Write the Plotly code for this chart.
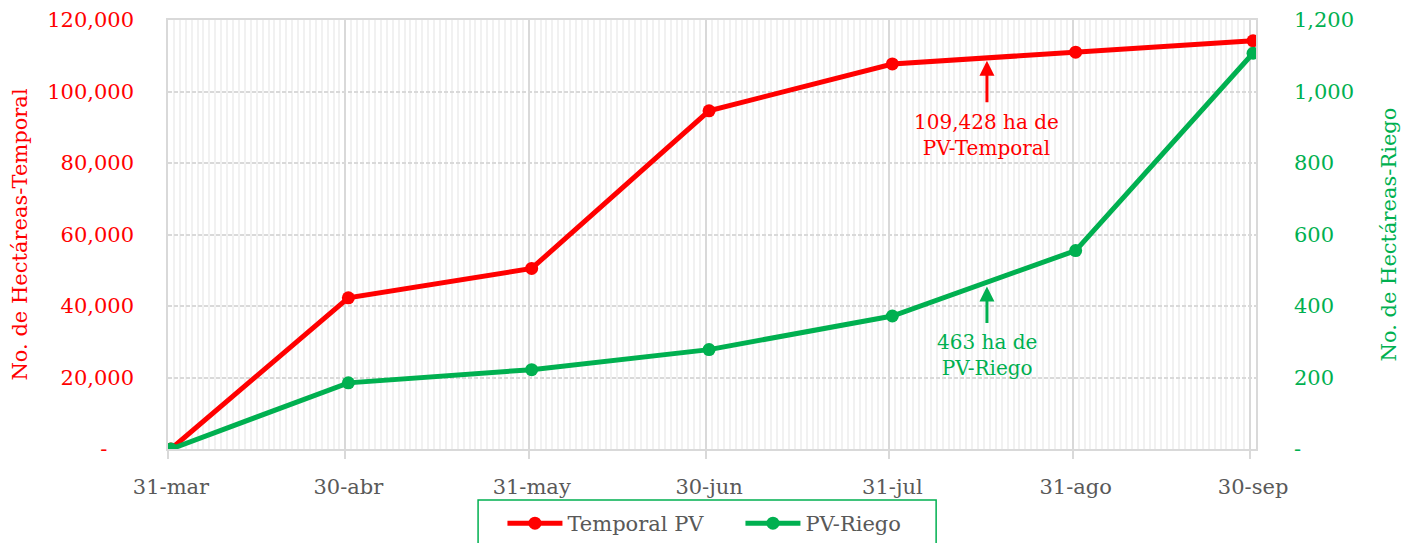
import plotly.graph_objects as go

dates = ["2023-03-31", "2023-04-30", "2023-05-31", "2023-06-30", "2023-07-31", "2023-08-31", "2023-09-30"]
date_labels = ["31-mar", "30-abr", "31-may", "30-jun", "31-jul", "31-ago", "30-sep"]
temporal = [0, 42300, 50500, 94600, 107700, 111000, 114200]
riego = [0, 185, 222, 278, 372, 555, 1107]

ann_date = "2023-08-16"
ann_temporal = 109428
ann_riego = 463

left_ticks = [0, 20000, 40000, 60000, 80000, 100000, 120000]
left_text = ["-\u00a0\u00a0\u00a0\u00a0", "20,000", "40,000", "60,000", "80,000", "100,000", "120,000"]
right_ticks = [0, 200, 400, 600, 800, 1000, 1200]
right_text = ["-", "200", "400", "600", "800", "1,000", "1,200"]

RED = "#FF0000"
GREEN = "#00B050"
GRAY = "#595959"
FONT = "DejaVu Serif"
FS = 21

xs = [d + " 12:00" for d in dates]

fig = go.Figure()
fig.add_trace(go.Scatter(x=xs, y=temporal, name="Temporal PV", mode="lines+markers",
                         line=dict(color=RED, width=5), marker=dict(size=13, color=RED)))
fig.add_trace(go.Scatter(x=xs, y=riego, name="PV-Riego", mode="lines+markers", yaxis="y2",
                         line=dict(color=GREEN, width=5), marker=dict(size=13, color=GREEN)))

fig.add_annotation(x=ann_date + " 12:00", y=ann_temporal, xref="x", yref="y",
                   text=f"{ann_temporal:,} ha de<br>PV-Temporal", showarrow=True,
                   ax=0, ay=77, arrowhead=2, arrowwidth=3, arrowsize=1, arrowcolor=RED,
                   standoff=3, startstandoff=6, font=dict(family=FONT, size=20, color=RED))
fig.add_annotation(x=ann_date + " 12:00", y=ann_riego, xref="x", yref="y2",
                   text=f"{ann_riego:,} ha de<br>PV-Riego", showarrow=True,
                   ax=0, ay=72, arrowhead=2, arrowwidth=3, arrowsize=1, arrowcolor=GREEN,
                   standoff=3, startstandoff=6, font=dict(family=FONT, size=20, color=GREEN))

# legend frame
fig.add_shape(type="rect", xref="paper", yref="paper", x0=0.285, x1=0.706, y0=-0.26, y1=-0.119,
              line=dict(color=GREEN, width=1.5), fillcolor="rgba(0,0,0,0)")

fig.update_layout(
    width=1401, height=543,
    margin=dict(l=168, r=145, t=20, b=94),
    paper_bgcolor="white", plot_bgcolor="white",
    font=dict(family=FONT, size=FS, color=GRAY),
    showlegend=True,
    legend=dict(orientation="h", x=0.3074, xanchor="left", yref="container", y=1 - 503 / 543, yanchor="top",
                entrywidth=168, entrywidthmode="pixels", itemwidth=55, bgcolor="rgba(0,0,0,0)",
                font=dict(family=FONT, size=FS, color=GRAY)),
    xaxis=dict(type="date", range=["2023-03-31", "2023-10-01"], automargin=False,
               tickvals=dates, ticktext=date_labels, ticklabelshift=3,
               showgrid=True, gridcolor="#D9D9D9", gridwidth=1.5,
               ticks="outside", ticklen=8, tickcolor="#D9D9D9", tickwidth=1.5,
               ticklabelstandoff=10,
               minor=dict(dtick=86400000, tick0="2023-03-31", showgrid=True,
                          gridcolor="#F1F1F1", gridwidth=1.6),
               showline=True, linecolor="#D9D9D9", linewidth=1.5, mirror=True,
               tickfont=dict(color=GRAY, size=FS), zeroline=False),
    yaxis=dict(range=[0, 120000], tickvals=left_ticks, ticktext=left_text, automargin=False,
               showgrid=True, gridcolor="#D9D9D9", griddash="4px,2px", gridwidth=1.5,
               tickfont=dict(color=RED, size=FS), ticklabelstandoff=28,
               title=dict(text="No. de Hectáreas-Temporal", font=dict(color=RED, size=FS), standoff=14),
               zeroline=False, showline=True, linecolor="#D9D9D9", linewidth=1.5),
    yaxis2=dict(range=[0, 1200], tickvals=right_ticks, ticktext=right_text, automargin=False,
                overlaying="y", side="right", showgrid=False,
                tickfont=dict(color=GREEN, size=FS), ticklabelstandoff=32,
                title=dict(text="No. de Hectáreas-Riego", font=dict(color=GREEN, size=FS), standoff=28),
                zeroline=False, showline=True, linecolor="#D9D9D9", linewidth=1.5),
)

fig.write_html("out.html", config={"displayModeBar": False},
               post_script="document.body.style.margin='0';document.body.style.overflow='hidden';")
